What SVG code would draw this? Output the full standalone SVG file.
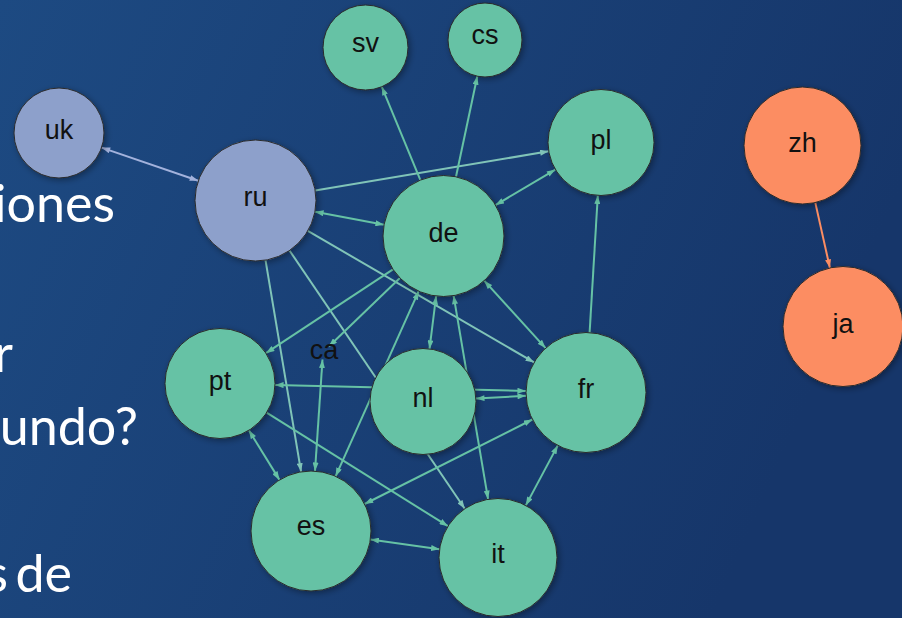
<svg xmlns="http://www.w3.org/2000/svg" width="902" height="618" viewBox="0 0 902 618">
  <defs>
    <linearGradient id="bg" x1="0" y1="0" x2="1" y2="0.3">
      <stop offset="0" stop-color="#1d4a82"/>
      <stop offset="1" stop-color="#16366a"/>
    </linearGradient>
    <filter id="shadow" x="-30%" y="-30%" width="160%" height="160%">
      <feDropShadow dx="2" dy="2" stdDeviation="3" flood-color="#000" flood-opacity="0.35"/>
    </filter>
    <marker id="ag" viewBox="0 0 10 7" refX="10" refY="3.5" markerWidth="9" markerHeight="6" markerUnits="userSpaceOnUse" orient="auto-start-reverse">
      <path d="M0,0 L10,3.5 L0,7 z" fill="#66c2a5"/>
    </marker>
    <marker id="at" viewBox="0 0 10 7" refX="10" refY="3.5" markerWidth="9" markerHeight="6" markerUnits="userSpaceOnUse" orient="auto-start-reverse">
      <path d="M0,0 L10,3.5 L0,7 z" fill="#80c4b8"/>
    </marker>
    <marker id="al" viewBox="0 0 10 7" refX="10" refY="3.5" markerWidth="9" markerHeight="6" markerUnits="userSpaceOnUse" orient="auto-start-reverse">
      <path d="M0,0 L10,3.5 L0,7 z" fill="#a3b2dc"/>
    </marker>
    <marker id="ao" viewBox="0 0 10 7" refX="10" refY="3.5" markerWidth="9" markerHeight="6" markerUnits="userSpaceOnUse" orient="auto-start-reverse">
      <path d="M0,0 L10,3.5 L0,7 z" fill="#fc8d62"/>
    </marker>
  </defs>
  <style>
    .e { stroke-width: 2; fill: none; }
    .g { stroke: #66c2a5; }
    .t { stroke: #80c4b8; }
    .l { stroke: #a3b2dc; }
    .o { stroke: #fc8d62; }
    .n circle { stroke: #2b2b2b; stroke-width: 1; filter: url(#shadow); }
    .green { fill: #66c2a5; }
    .lav { fill: #8da0cb; }
    .org { fill: #fc8d62; }
    .lbl { font-family: "Liberation Sans", Arial, sans-serif; font-size: 27px; fill: #111; text-anchor: middle; }
    .side { font-family: Lato, "Open Sans", sans-serif; font-size: 52px; fill: #ffffff; text-anchor: end; }
  </style>
  <rect width="902" height="618" fill="url(#bg)"/>

  <g id="side-text">
    <text class="side" x="115" y="222">iones</text>
    <text class="side" x="13" y="372">r</text>
    <text class="side" x="138" y="445">undo?</text>
    <text class="side" x="72" y="592" word-spacing="-6">s de</text>
  </g>

  <g id="connectors">
    <line class="e l" x1="101.6" y1="147.6" x2="198.3" y2="180.8" marker-start="url(#al)" marker-end="url(#al)"/>
    <line class="e t" x1="315.2" y1="190.5" x2="548.7" y2="151.3" marker-end="url(#at)"/>
    <line class="e g" x1="315.0" y1="211.7" x2="384.0" y2="224.8" marker-start="url(#ag)" marker-end="url(#ag)"/>
    <line class="e t" x1="307.8" y1="230.9" x2="534.1" y2="362.4" marker-end="url(#at)"/>
    <line class="e t" x1="265.5" y1="260.2" x2="301.1" y2="471.8" marker-end="url(#at)"/>
    <line class="e t" x1="289.5" y1="250.5" x2="464.8" y2="508.7" marker-end="url(#at)"/>
    <line class="e g" x1="420.4" y1="180.1" x2="381.8" y2="86.8" marker-end="url(#ag)"/>
    <line class="e g" x1="456.0" y1="176.8" x2="477.3" y2="76.2" marker-end="url(#ag)"/>
    <line class="e g" x1="495.5" y1="205.1" x2="555.4" y2="169.6" marker-start="url(#ag)" marker-end="url(#ag)"/>
    <line class="e g" x1="484.2" y1="280.7" x2="545.6" y2="348.1" marker-start="url(#ag)" marker-end="url(#ag)"/>
    <line class="e g" x1="393.0" y1="269.3" x2="265.9" y2="353.2" marker-end="url(#ag)"/>
    <line class="e g" x1="399.9" y1="278.0" x2="328.8" y2="346.5" marker-end="url(#ag)"/>
    <line class="e g" x1="436.1" y1="296.0" x2="429.5" y2="348.9" marker-start="url(#ag)" marker-end="url(#ag)"/>
    <line class="e g" x1="453.6" y1="295.6" x2="488.1" y2="499.3" marker-start="url(#ag)" marker-end="url(#ag)"/>
    <line class="e g" x1="418.7" y1="291.2" x2="335.6" y2="476.3" marker-start="url(#ag)" marker-end="url(#ag)"/>
    <line class="e g" x1="526.0" y1="391.0" x2="275.0" y2="384.9" marker-start="url(#ag)" marker-end="url(#ag)"/>
    <line class="e g" x1="475.9" y1="398.6" x2="526.1" y2="395.8" marker-start="url(#ag)" marker-end="url(#ag)"/>
    <line class="e g" x1="589.6" y1="332.6" x2="597.8" y2="195.4" marker-end="url(#ag)"/>
    <line class="e g" x1="557.8" y1="445.4" x2="525.8" y2="505.4" marker-start="url(#ag)" marker-end="url(#ag)"/>
    <line class="e g" x1="532.4" y1="419.5" x2="364.6" y2="504.0" marker-start="url(#ag)" marker-end="url(#ag)"/>
    <line class="e g" x1="370.4" y1="539.4" x2="439.6" y2="549.2" marker-start="url(#ag)" marker-end="url(#ag)"/>
    <line class="e g" x1="248.9" y1="430.3" x2="279.5" y2="479.9" marker-start="url(#ag)" marker-end="url(#ag)"/>
    <line class="e g" x1="266.6" y1="412.7" x2="448.0" y2="526.2" marker-end="url(#ag)"/>
    <line class="e g" x1="322.5" y1="359.5" x2="315.0" y2="471.1" marker-start="url(#ag)" marker-end="url(#ag)"/>
    <line class="e o" x1="815.3" y1="202.6" x2="829.9" y2="268.0" marker-end="url(#ao)"/>
  </g>

  <g id="node-uk" class="n"><circle class="lav" cx="59" cy="133" r="45"/><text class="lbl" x="59" y="139">uk</text></g>
  <g id="node-ru" class="n"><circle class="lav" cx="255.5" cy="200.5" r="60.5"/><text class="lbl" x="255.5" y="206">ru</text></g>
  <g id="node-sv" class="n"><circle class="green" cx="365.5" cy="47.5" r="42.5"/><text class="lbl" x="365.5" y="52">sv</text></g>
  <g id="node-cs" class="n"><circle class="green" cx="485" cy="40" r="37"/><text class="lbl" x="485" y="44">cs</text></g>
  <g id="node-pl" class="n"><circle class="green" cx="601" cy="142.5" r="53"/><text class="lbl" x="601" y="149">pl</text></g>
  <g id="node-de" class="n"><circle class="green" cx="443.5" cy="236" r="60.5"/><text class="lbl" x="443.5" y="242">de</text></g>
  <g id="node-pt" class="n"><circle class="green" cx="220" cy="383.5" r="55"/><text class="lbl" x="220" y="390">pt</text></g>
  <g id="node-nl" class="n"><circle class="green" cx="423" cy="401.5" r="53"/><text class="lbl" x="423" y="407">nl</text></g>
  <g id="node-fr" class="n"><circle class="green" cx="586" cy="392.5" r="60"/><text class="lbl" x="586" y="398">fr</text></g>
  <g id="node-es" class="n"><circle class="green" cx="311" cy="531" r="60"/><text class="lbl" x="311" y="535">es</text></g>
  <g id="node-it" class="n"><circle class="green" cx="498" cy="557.5" r="59"/><text class="lbl" x="498" y="563">it</text></g>
  <g id="node-zh" class="n"><circle class="org" cx="802.5" cy="145.5" r="58.5"/><text class="lbl" x="802.5" y="152">zh</text></g>
  <g id="node-ja" class="n"><circle class="org" cx="843" cy="326.5" r="60"/><text class="lbl" x="843" y="333">ja</text></g>
  <g id="node-ca"><text class="lbl" x="324" y="359">ca</text></g>
</svg>
